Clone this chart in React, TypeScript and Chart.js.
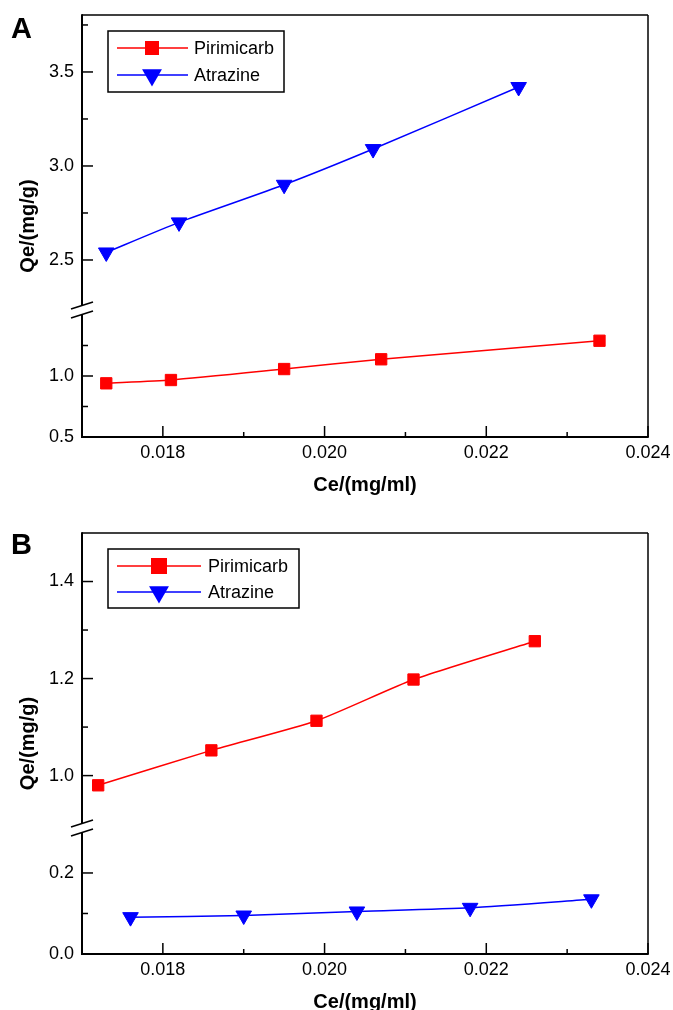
import React, { useEffect, useRef } from 'react';
import { Chart, registerables } from 'chart.js';

Chart.register(...registerables);

const FONT = '"Liberation Sans", Arial, Helvetica, sans-serif';
const RED = '#ff0000';
const BLUE = '#0000ff';

// Shared x axis: Ce/(mg/ml)
const xTicks = [0.018, 0.019, 0.02, 0.021, 0.022, 0.023, 0.024];
const xLabeled = [0.018, 0.02, 0.022, 0.024];

// Panel A data
const ceA_pirimicarb = [0.0173, 0.0181, 0.0195, 0.0207, 0.0234];
const qeA_pirimicarb = [0.94, 0.967, 1.057, 1.137, 1.289];
const ceA_atrazine = [0.0173, 0.0182, 0.0195, 0.0206, 0.0224];
const qeA_atrazine = [2.54, 2.7, 2.9, 3.09, 3.42];

// Panel A broken y axis
const yTicksA_low = [0.5, 0.75, 1.0, 1.25];
const yLabelsA_low = [0.5, 1.0];
const yTicksA_high = [2.5, 2.75, 3.0, 3.25, 3.5, 3.75];
const yLabelsA_high = [2.5, 3.0, 3.5];

// Panel B data
const ceB_pirimicarb = [0.0172, 0.0186, 0.0199, 0.0211, 0.0226];
const qeB_pirimicarb = [0.98, 1.052, 1.113, 1.198, 1.277];
const ceB_atrazine = [0.0176, 0.019, 0.0204, 0.0218, 0.0233];
const qeB_atrazine = [0.091, 0.095, 0.105, 0.114, 0.135];

// Panel B broken y axis
const yTicksB_low = [0, 0.1, 0.2];
const yLabelsB_low = [0, 0.2];
const yTicksB_high = [1.0, 1.1, 1.2, 1.3, 1.4];
const yLabelsB_high = [1.0, 1.2, 1.4];

const near = (list: number[], v: number) => list.some((t) => Math.abs(t - v) < 1e-9);

type Segment = { min: number; max: number; weight: number; ticks: number[]; labels: number[] };
type Legend = {
  x: number; y: number; w: number; h: number;
  rows: number[]; lineX0: number; lineX1: number; markX: number; textX: number;
  square: number; tri: number;
};
type PanelCfg = {
  letter: string;
  letterBaseline: number;
  height: number;
  padTop: number;
  xHeight: number;
  titlePadBottom: number;
  pirX: number[]; pirY: number[]; pirAxis: string;
  atrX: number[]; atrY: number[]; atrAxis: string;
  low: Segment; high: Segment;
  legend: Legend;
};

const panelA: PanelCfg = {
  letter: 'A',
  letterBaseline: 38,
  height: 505,
  padTop: 15,
  xHeight: 68,
  titlePadBottom: 8,
  pirX: ceA_pirimicarb, pirY: qeA_pirimicarb, pirAxis: 'yLow',
  atrX: ceA_atrazine, atrY: qeA_atrazine, atrAxis: 'yHigh',
  low: { min: 0.5, max: 1.541, weight: 127, ticks: yTicksA_low, labels: yLabelsA_low },
  high: { min: 2.234, max: 3.803, weight: 295, ticks: yTicksA_high, labels: yLabelsA_high },
  legend: { x: 108, y: 31, w: 176, h: 61, rows: [48, 75], lineX0: 117, lineX1: 188, markX: 152, textX: 194, square: 14, tri: 11.5 },
};

const panelB: PanelCfg = {
  letter: 'B',
  letterBaseline: 49,
  height: 520,
  padTop: 28,
  xHeight: 71,
  titlePadBottom: 11,
  pirX: ceB_pirimicarb, pirY: qeB_pirimicarb, pirAxis: 'yHigh',
  atrX: ceB_atrazine, atrY: qeB_atrazine, atrAxis: 'yLow',
  low: { min: 0, max: 0.311, weight: 126, ticks: yTicksB_low, labels: yLabelsB_low },
  high: { min: 0.892, max: 1.5, weight: 295, ticks: yTicksB_high, labels: yLabelsB_high },
  legend: { x: 108, y: 44, w: 191, h: 59, rows: [61, 87], lineX0: 117, lineX1: 201, markX: 159, textX: 208, square: 16, tri: 11.5 },
};

function drawMarker(ctx: CanvasRenderingContext2D, kind: string, x: number, y: number, size: number, color: string) {
  ctx.fillStyle = color;
  if (kind === 'rect') {
    ctx.fillRect(x - size / 2, y - size / 2, size, size);
  } else {
    const r = size;
    ctx.beginPath();
    ctx.moveTo(x, y + r);
    ctx.lineTo(x - r * 0.866, y - r / 2);
    ctx.lineTo(x + r * 0.866, y - r / 2);
    ctx.closePath();
    ctx.fill();
  }
}

// Frame, inward tick marks, axis break, y title, panel letter and legend
const decorPlugin = {
  id: 'decor',
  beforeDatasetsDraw(chart: any, _args: any, opts: any) {
    const { ctx, chartArea: a, scales } = chart;
    const cfg: PanelCfg = opts.cfg;
    const lo = scales.yLow;
    const brk = lo.top;
    const seg = (x0: number, y0: number, x1: number, y1: number) => {
      ctx.beginPath();
      ctx.moveTo(x0, y0);
      ctx.lineTo(x1, y1);
      ctx.stroke();
    };
    ctx.save();
    ctx.strokeStyle = '#000';
    ctx.lineCap = 'butt';

    ctx.lineWidth = 1.5;
    seg(a.left, a.top, a.right, a.top);
    seg(a.right, a.top, a.right, a.bottom);

    ctx.lineWidth = 2;
    seg(a.left - 1, a.bottom, a.right + 0.75, a.bottom);
    seg(a.left, a.top - 0.75, a.left, brk - 4.5);
    seg(a.left, brk + 4.5, a.left, a.bottom + 1);

    // break marks
    ctx.lineWidth = 1.5;
    seg(a.left - 11, brk - 1, a.left + 11, brk - 8);
    seg(a.left - 11, brk + 8, a.left + 11, brk + 1);

    // x ticks pointing inward
    ctx.lineWidth = 1.5;
    for (const t of scales.x.ticks) {
      const px = scales.x.getPixelForValue(t.value);
      const len = near(xLabeled, t.value) ? 11 : 5;
      seg(px, a.bottom, px, a.bottom - len);
    }
    // y ticks pointing inward
    for (const [id, labels] of [['yLow', cfg.low.labels], ['yHigh', cfg.high.labels]] as [string, number[]][]) {
      const s = scales[id];
      for (const t of s.ticks) {
        const py = s.getPixelForValue(t.value);
        const len = near(labels, t.value) ? 11 : 6;
        seg(a.left, py, a.left + len, py);
      }
    }

    // y axis title
    ctx.fillStyle = '#000';
    ctx.font = `bold 20px ${FONT}`;
    ctx.textAlign = 'center';
    ctx.textBaseline = 'middle';
    ctx.translate(28, (a.top + a.bottom) / 2);
    ctx.rotate(-Math.PI / 2);
    ctx.fillText('Qe/(mg/g)', 0, 0);
    ctx.restore();

    // panel letter
    ctx.save();
    ctx.fillStyle = '#000';
    ctx.font = `bold 29px ${FONT}`;
    ctx.textAlign = 'left';
    ctx.textBaseline = 'alphabetic';
    ctx.fillText(cfg.letter, 11, cfg.letterBaseline);
    ctx.restore();
  },
  afterDraw(chart: any, _args: any, opts: any) {
    const { ctx } = chart;
    const L: Legend = opts.cfg.legend;
    ctx.save();
    ctx.fillStyle = '#fff';
    ctx.fillRect(L.x, L.y, L.w, L.h);
    ctx.strokeStyle = '#000';
    ctx.lineWidth = 1.5;
    ctx.strokeRect(L.x, L.y, L.w, L.h);
    const entries = [
      { text: 'Pirimicarb', color: RED, kind: 'rect', size: L.square },
      { text: 'Atrazine', color: BLUE, kind: 'tri', size: L.tri },
    ];
    entries.forEach((e, i) => {
      const y = L.rows[i];
      ctx.strokeStyle = e.color;
      ctx.lineWidth = 1.5;
      ctx.beginPath();
      ctx.moveTo(L.lineX0, y);
      ctx.lineTo(L.lineX1, y);
      ctx.stroke();
      drawMarker(ctx, e.kind, L.markX, y, e.size, e.color);
      ctx.fillStyle = '#000';
      ctx.font = `18px ${FONT}`;
      ctx.textAlign = 'left';
      ctx.textBaseline = 'middle';
      ctx.fillText(e.text, L.textX, y + 1);
    });
    ctx.restore();
  },
};

function yScale(segCfg: Segment) {
  return {
    type: 'linear',
    position: 'left',
    stack: 'left',
    stackWeight: segCfg.weight,
    min: segCfg.min,
    max: segCfg.max,
    afterBuildTicks: (s: any) => {
      s.ticks = segCfg.ticks.map((v) => ({ value: v }));
    },
    afterFit: (s: any) => {
      s.width = 82;
      s.paddingTop = 0;
      s.paddingBottom = 0;
    },
    ticks: {
      autoSkip: false,
      padding: 8,
      color: '#000',
      font: { family: FONT, size: 18 },
      callback: (v: number) => (near(segCfg.labels, v) ? v.toFixed(1) : ''),
    },
    grid: { display: false, drawTicks: false },
    border: { display: false },
  };
}

function Panel({ cfg }: { cfg: PanelCfg }) {
  const ref = useRef<HTMLCanvasElement>(null);
  useEffect(() => {
    if (!ref.current) return;
    const chart = new Chart(ref.current, {
      type: 'line',
      data: {
        datasets: [
          {
            label: 'Pirimicarb',
            data: cfg.pirX.map((x, i) => ({ x, y: cfg.pirY[i] })),
            yAxisID: cfg.pirAxis,
            borderColor: RED,
            backgroundColor: RED,
            borderWidth: 1.5,
            pointStyle: 'rect',
            pointRadius: 8,
            pointBorderWidth: 1,
            pointBorderColor: RED,
            pointBackgroundColor: RED,
            tension: 0.2,
            clip: false,
          },
          {
            label: 'Atrazine',
            data: cfg.atrX.map((x, i) => ({ x, y: cfg.atrY[i] })),
            yAxisID: cfg.atrAxis,
            borderColor: BLUE,
            backgroundColor: BLUE,
            borderWidth: 1.5,
            pointStyle: 'triangle',
            pointRotation: 180,
            pointRadius: 9,
            pointBorderWidth: 1,
            pointBorderColor: BLUE,
            pointBackgroundColor: BLUE,
            tension: 0.2,
            clip: false,
          },
        ],
      } as any,
      options: {
        animation: false,
        responsive: false,
        maintainAspectRatio: false,
        devicePixelRatio: 1,
        events: [],
        layout: { padding: { left: 0, right: 25, top: cfg.padTop, bottom: 0 } },
        plugins: {
          legend: { display: false },
          tooltip: { enabled: false },
          decor: { cfg },
        } as any,
        scales: {
          x: {
            type: 'linear',
            min: 0.017,
            max: 0.024,
            afterBuildTicks: (s: any) => {
              s.ticks = xTicks.map((v) => ({ value: v }));
            },
            afterFit: (s: any) => {
              s.height = cfg.xHeight;
              s.paddingLeft = 0;
              s.paddingRight = 0;
            },
            ticks: {
              autoSkip: false,
              maxRotation: 0,
              padding: 5,
              color: '#000',
              font: { family: FONT, size: 18 },
              callback: (v: number) => (near(xLabeled, v) ? v.toFixed(3) : ''),
            },
            grid: { display: false, drawTicks: false },
            border: { display: false },
            title: {
              display: true,
              text: 'Ce/(mg/ml)',
              color: '#000',
              font: { family: FONT, size: 20, weight: 'bold' },
              padding: { top: 0, bottom: cfg.titlePadBottom },
            },
          },
          yLow: yScale(cfg.low),
          yHigh: yScale(cfg.high),
        } as any,
      },
      plugins: [decorPlugin as any],
    });
    return () => chart.destroy();
  }, [cfg]);
  return (
    <canvas
      ref={ref}
      width={673}
      height={cfg.height}
      style={{ display: 'block', width: 673, height: cfg.height }}
    />
  );
}

export default function App() {
  return (
    <div
      style={{
        position: 'absolute',
        top: 0,
        left: 0,
        width: 673,
        height: 1010,
        overflow: 'hidden',
        background: '#fff',
      }}
    >
      <Panel cfg={panelA} />
      <Panel cfg={panelB} />
    </div>
  );
}
